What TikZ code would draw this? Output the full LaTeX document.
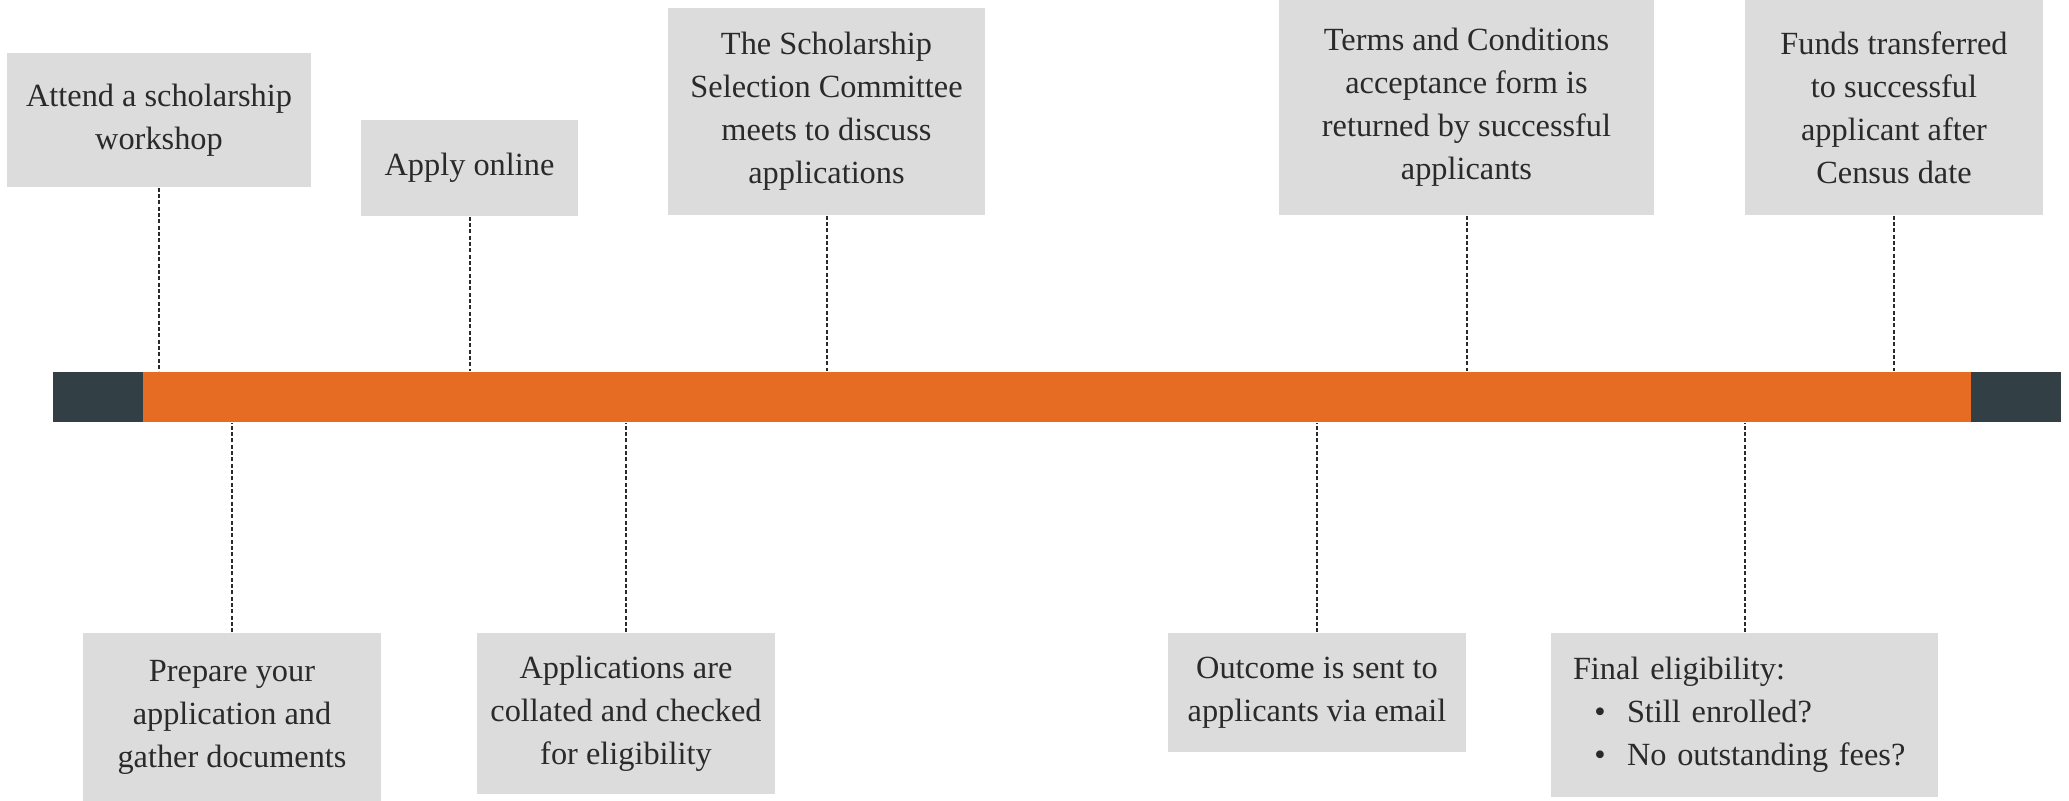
\documentclass[tikz,border=0pt]{standalone}
\usepackage{fontspec}
\setmainfont{Liberation Serif}

\definecolor{barorange}{HTML}{E56C22}
\definecolor{bardark}{HTML}{324046}
\definecolor{boxgray}{HTML}{DCDCDC}
\definecolor{inkgray}{HTML}{2A2A2A}

\tikzset{
    stepbox/.style={fill=boxgray, inner sep=0pt, align=center, text=inkgray,
        font=\fontsize{9.7}{12.9}\selectfont},
    link/.style={draw=inkgray, line width=0.6pt, dash pattern=on 1.2pt off 0.7pt},
    endcap/.style={fill=bardark, inner sep=0pt, minimum width=27pt, minimum height=15pt}
}

\begin{document}
\begin{tikzpicture}[x=0.3pt, y=-0.3pt]

    \useasboundingbox (0,0) rectangle (2069,801);

    \node[fill=barorange, inner sep=0pt, minimum width=602.4pt, minimum height=15pt] (bar) at (1057,397) {};
    \node[endcap, anchor=west] (capl) at (bar.west) {};
    \node[endcap, anchor=east] (capr) at (bar.east) {};

    \node[stepbox, minimum width=91.2pt, minimum height=40.2pt] (workshop) at (159,120) {Attend a scholarship\\workshop};
    \node[stepbox, minimum width=65.1pt, minimum height=28.8pt] (online) at (469.5,168) {Apply online};
    \node[stepbox, minimum width=95.1pt, minimum height=62.1pt] (committee) at (826.5,111.5) {The Scholarship\\Selection Committee\\meets to discuss\\applications};
    \node[stepbox, minimum width=112.5pt, minimum height=64.5pt] (terms) at (1466.5,107.5) {Terms and Conditions\\acceptance form is\\returned by successful\\applicants};
    \node[stepbox, minimum width=89.4pt, minimum height=64.5pt] (funds) at (1894,107.5) {Funds transferred\\to successful\\applicant after\\Census date};

    \node[stepbox, minimum width=89.4pt, minimum height=50.4pt] (prepare) at (232,717) {Prepare your\\application and\\gather documents};
    \node[stepbox, minimum width=89.4pt, minimum height=48.3pt] (collate) at (626,713.5) {Applications are\\collated and checked\\for eligibility};
    \node[stepbox, minimum width=89.4pt, minimum height=35.7pt] (outcome) at (1317,692.5) {Outcome is sent to\\applicants via email};
    \node[stepbox, align=left, text width=102.9pt, inner xsep=6.6pt, minimum height=49.2pt] (final) at (1744.5,715) {Final eligibility:\\
        \hspace*{6.4pt}\makebox[9.8pt][l]{\textbullet}Still enrolled?\\
        \hspace*{6.4pt}\makebox[9.8pt][l]{\textbullet}No outstanding fees?};

    \foreach \b in {workshop,online,committee,terms,funds} \draw[link] (\b.south) -- (\b.south |- bar.north);
    \foreach \b in {prepare,collate,outcome,final} \draw[link] (\b.north) -- (\b.north |- bar.south);

\end{tikzpicture}
\end{document}
